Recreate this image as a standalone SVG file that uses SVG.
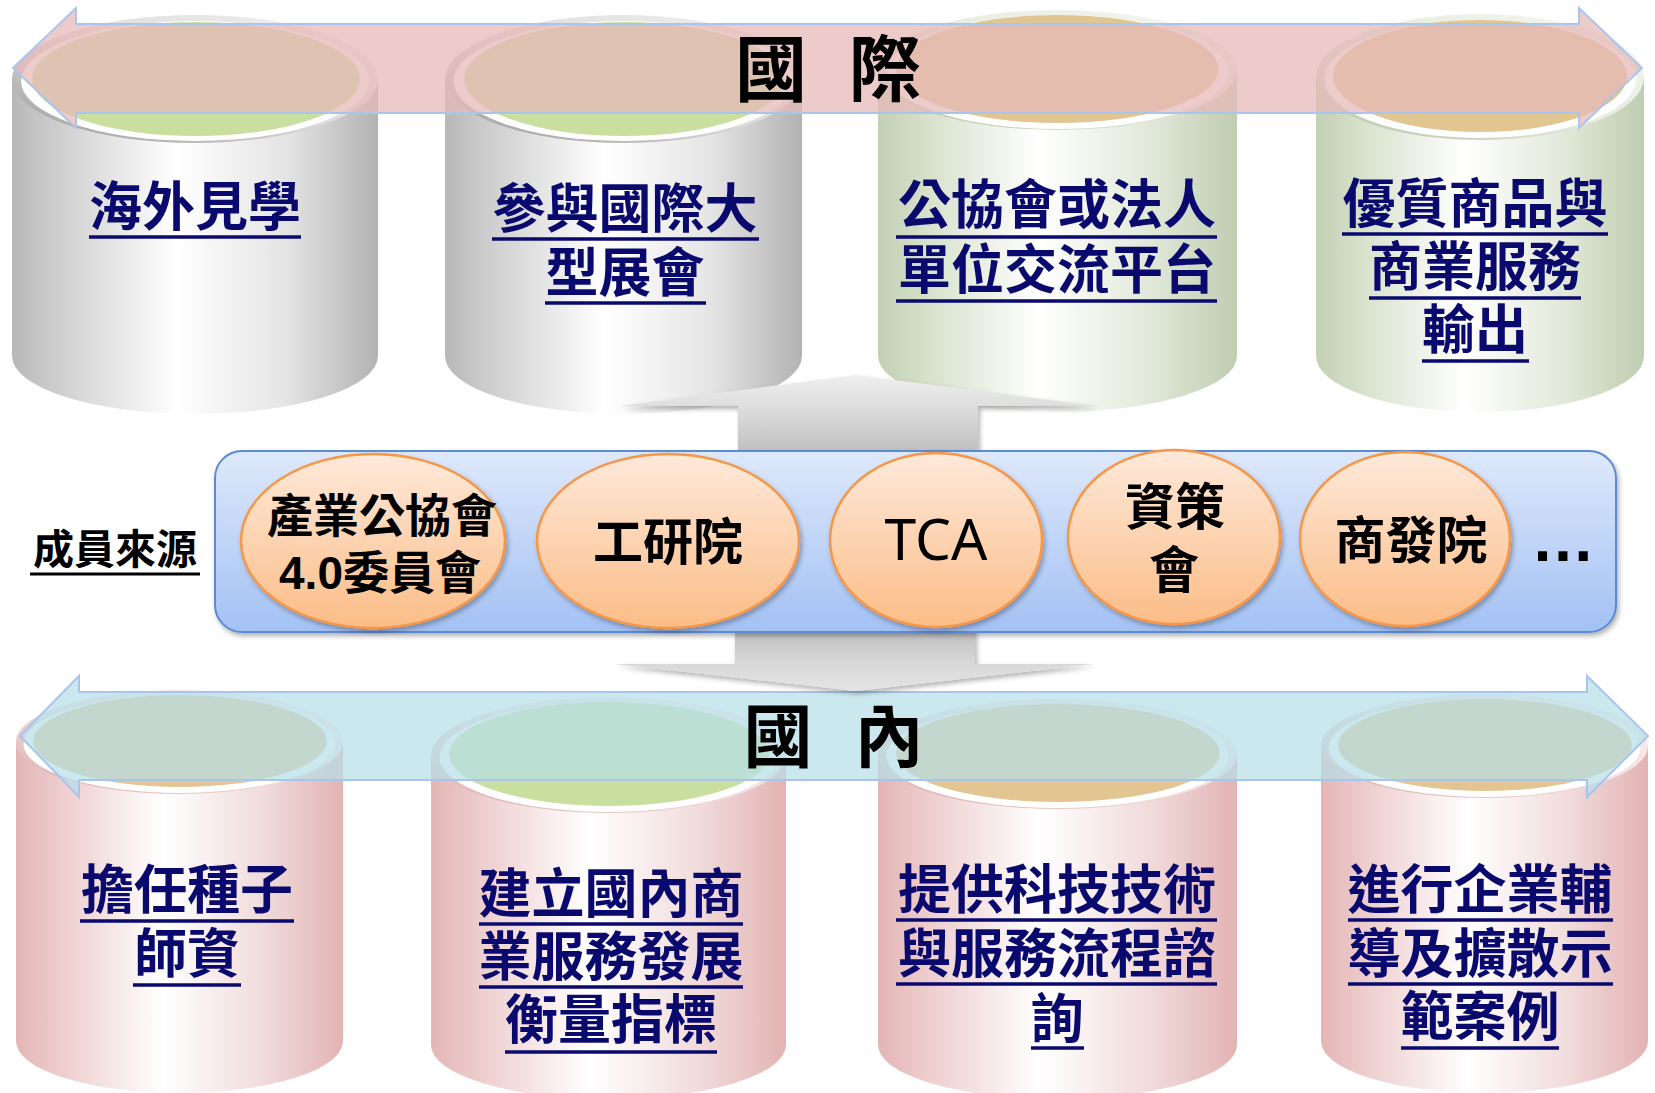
<svg xmlns="http://www.w3.org/2000/svg" width="1655" height="1093" viewBox="0 0 1655 1093">
<defs>
<style>
.lbl{font-family:"Liberation Sans","Noto Sans CJK TC","Noto Sans CJK SC",sans-serif;font-weight:700;font-size:53px;fill:#0a0a6e;text-anchor:middle}
.ul{stroke:#0a0a6e;stroke-width:3.5;fill:none}
.big{font-family:"Liberation Sans","Noto Sans CJK TC","Noto Sans CJK SC",sans-serif;font-weight:700;fill:#000;text-anchor:middle}
.org{font-family:"Liberation Sans","Noto Sans CJK TC","Noto Sans CJK SC",sans-serif;font-weight:700;fill:#000;text-anchor:middle}
.oval{fill:url(#gOrange);stroke:#f79646;stroke-width:2.5;filter:url(#shd)}
.white{fill:#ffffff}
</style>
<linearGradient id="gSilver" x1="0" y1="0" x2="1" y2="0">
<stop offset="0" stop-color="#b8b8b8"/><stop offset="0.15" stop-color="#d2d2d2"/><stop offset="0.45" stop-color="#ffffff"/><stop offset="0.75" stop-color="#e4e4e4"/><stop offset="1" stop-color="#b2b2b2"/>
</linearGradient>
<linearGradient id="gSage" x1="0" y1="0" x2="1" y2="0">
<stop offset="0" stop-color="#c2d0b4"/><stop offset="0.15" stop-color="#d8e2cd"/><stop offset="0.45" stop-color="#ffffff"/><stop offset="0.75" stop-color="#e2e9da"/><stop offset="1" stop-color="#bfcdb1"/>
</linearGradient>
<linearGradient id="gPink" x1="0" y1="0" x2="1" y2="0">
<stop offset="0" stop-color="#e4b5b5"/><stop offset="0.15" stop-color="#eecfcf"/><stop offset="0.45" stop-color="#ffffff"/><stop offset="0.75" stop-color="#f1dcdc"/><stop offset="1" stop-color="#e3b3b3"/>
</linearGradient>
<linearGradient id="gRimS" x1="0" y1="1" x2="1" y2="0">
<stop offset="0" stop-color="#9a9a9a"/><stop offset="0.5" stop-color="#dcdcdc"/><stop offset="1" stop-color="#f2f2f2"/>
</linearGradient>
<linearGradient id="gRimG" x1="0" y1="1" x2="1" y2="0">
<stop offset="0" stop-color="#b5c4a8"/><stop offset="0.5" stop-color="#e6ecdf"/><stop offset="1" stop-color="#f5f7f2"/>
</linearGradient>
<linearGradient id="gRimP" x1="0" y1="1" x2="1" y2="0">
<stop offset="0" stop-color="#dcaeae"/><stop offset="0.5" stop-color="#f2dede"/><stop offset="1" stop-color="#fbf2f2"/>
</linearGradient>
<linearGradient id="gBox" x1="0" y1="0" x2="0" y2="1">
<stop offset="0" stop-color="#dee9fb"/><stop offset="1" stop-color="#a3c1f4"/>
</linearGradient>
<linearGradient id="gOrange" x1="0" y1="0" x2="0" y2="1">
<stop offset="0" stop-color="#fee9da"/><stop offset="1" stop-color="#fbbd87"/>
</linearGradient>
<linearGradient id="gUp" x1="0" y1="0" x2="0" y2="1">
<stop offset="0" stop-color="#efefef"/><stop offset="0.45" stop-color="#dcdcdc"/><stop offset="1" stop-color="#c0c0c0"/>
</linearGradient>
<linearGradient id="gDown" x1="0" y1="0" x2="0" y2="1">
<stop offset="0" stop-color="#bcbcbc"/><stop offset="0.55" stop-color="#d8d8d8"/><stop offset="1" stop-color="#e4e4e4"/>
</linearGradient>
<filter id="shd" x="-10%" y="-10%" width="120%" height="130%">
<feDropShadow dx="2" dy="3" stdDeviation="2.5" flood-color="#000" flood-opacity="0.3"/>
</filter>
</defs>
<rect x="0" y="0" width="1655" height="1093" fill="#ffffff"/>

<!-- top cylinders -->
<g id="cyl-overseas">
<path d="M12,79 V356 A183,58 0 0 0 378,356 V79 Z" fill="url(#gSilver)"/>
<ellipse cx="195" cy="79" rx="183" ry="64" fill="url(#gRimS)"/>
<ellipse cx="195" cy="81" rx="174" ry="60" class="white"/>
<ellipse cx="196" cy="79" rx="164" ry="57" fill="#c9dfa0"/>
<text class="lbl" x="195" y="226">海外見學</text>
<line class="ul" x1="89" y1="237" x2="301" y2="237"/>
</g>
<g id="cyl-expo">
<path d="M445,79 V356 A178.5,58 0 0 0 802,356 V79 Z" fill="url(#gSilver)"/>
<ellipse cx="623.5" cy="79" rx="178.5" ry="64" fill="url(#gRimS)"/>
<ellipse cx="623.5" cy="81" rx="170" ry="60" class="white"/>
<ellipse cx="624" cy="79" rx="160" ry="57" fill="#c9dfa0"/>
<text class="lbl" x="625" y="228">參與國際大</text>
<line class="ul" x1="492" y1="239" x2="759" y2="239"/>
<text class="lbl" x="625" y="292">型展會</text>
<line class="ul" x1="545" y1="303" x2="706" y2="303"/>
</g>
<g id="cyl-platform">
<path d="M878,70 V356 A179.5,56 0 0 0 1237,356 V70 Z" fill="url(#gSage)"/>
<ellipse cx="1057.5" cy="70" rx="179.5" ry="60" fill="url(#gRimG)"/>
<ellipse cx="1057.5" cy="72" rx="171" ry="57" class="white"/>
<ellipse cx="1057.5" cy="69" rx="161" ry="54" fill="#e1c692"/>
<text class="lbl" x="1057" y="224">公協會或法人</text>
<line class="ul" x1="896" y1="237" x2="1217" y2="237"/>
<text class="lbl" x="1057" y="289">單位交流平台</text>
<line class="ul" x1="896" y1="301" x2="1217" y2="301"/>
</g>
<g id="cyl-export">
<path d="M1316,77 V356 A164,56 0 0 0 1644,356 V77 Z" fill="url(#gSage)"/>
<ellipse cx="1480" cy="77" rx="164" ry="63" fill="url(#gRimG)"/>
<ellipse cx="1480" cy="79" rx="156" ry="59" class="white"/>
<ellipse cx="1480" cy="76" rx="147" ry="56" fill="#e1c692"/>
<text class="lbl" x="1475" y="223">優質商品與</text>
<line class="ul" x1="1342" y1="234" x2="1608" y2="234"/>
<text class="lbl" x="1475" y="286">商業服務</text>
<line class="ul" x1="1369" y1="298" x2="1581" y2="298"/>
<text class="lbl" x="1475" y="349">輸出</text>
<line class="ul" x1="1422" y1="361" x2="1529" y2="361"/>
</g>

<!-- bottom cylinders -->
<g id="cyl-teacher">
<path d="M16,742 V1041 A163.5,52 0 0 0 343,1041 V742 Z" fill="url(#gPink)"/>
<ellipse cx="179.5" cy="742" rx="163.5" ry="52" fill="url(#gRimP)"/>
<ellipse cx="179.5" cy="744" rx="156" ry="49" class="white"/>
<ellipse cx="180" cy="741" rx="147" ry="46" fill="#e2c590"/>
<text class="lbl" x="187" y="909">擔任種子</text>
<line class="ul" x1="80" y1="921" x2="294" y2="921"/>
<text class="lbl" x="187" y="973">師資</text>
<line class="ul" x1="133" y1="985" x2="241" y2="985"/>
</g>
<g id="cyl-metrics">
<path d="M431,755 V1045 A177.5,54 0 0 0 786,1045 V755 Z" fill="url(#gPink)"/>
<ellipse cx="608.5" cy="755" rx="177.5" ry="58" fill="url(#gRimP)"/>
<ellipse cx="608.5" cy="757" rx="169" ry="55" class="white"/>
<ellipse cx="609" cy="754" rx="160" ry="52" fill="#c9dfa0"/>
<text class="lbl" x="611" y="913">建立國內商</text>
<line class="ul" x1="479" y1="924" x2="743" y2="924"/>
<text class="lbl" x="611" y="976">業服務發展</text>
<line class="ul" x1="479" y1="987" x2="743" y2="987"/>
<text class="lbl" x="611" y="1039">衡量指標</text>
<line class="ul" x1="505" y1="1052" x2="717" y2="1052"/>
</g>
<g id="cyl-consult">
<path d="M878,754 V1045 A179.5,54 0 0 0 1237,1045 V754 Z" fill="url(#gPink)"/>
<ellipse cx="1057.5" cy="754" rx="179.5" ry="55" fill="url(#gRimP)"/>
<ellipse cx="1057.5" cy="756" rx="171" ry="52" class="white"/>
<ellipse cx="1058" cy="753" rx="162" ry="49" fill="#e2c590"/>
<text class="lbl" x="1057" y="909">提供科技技術</text>
<line class="ul" x1="896" y1="920" x2="1217" y2="920"/>
<text class="lbl" x="1057" y="973">與服務流程諮</text>
<line class="ul" x1="896" y1="984" x2="1217" y2="984"/>
<text class="lbl" x="1057" y="1038">詢</text>
<line class="ul" x1="1031" y1="1048" x2="1084" y2="1048"/>
</g>
<g id="cyl-cases">
<path d="M1321,746 V1041 A163.5,52 0 0 0 1648,1041 V746 Z" fill="url(#gPink)"/>
<ellipse cx="1484.5" cy="746" rx="163.5" ry="52" fill="url(#gRimP)"/>
<ellipse cx="1484.5" cy="748" rx="156" ry="49" class="white"/>
<ellipse cx="1485" cy="745" rx="147" ry="46" fill="#e2c590"/>
<text class="lbl" x="1480" y="909">進行企業輔</text>
<line class="ul" x1="1348" y1="920" x2="1613" y2="920"/>
<text class="lbl" x="1480" y="973">導及擴散示</text>
<line class="ul" x1="1348" y1="984" x2="1613" y2="984"/>
<text class="lbl" x="1480" y="1036">範案例</text>
<line class="ul" x1="1401" y1="1048" x2="1559" y2="1048"/>
</g>

<!-- bands -->
<g id="band-international">
<path d="M13,68 L76,8 L76,24 L1579,24 L1579,8 L1642,68 L1579,128 L1579,113 L76,113 L76,128 Z" fill="#e6b9b8" fill-opacity="0.75" stroke="#a9c5ec" stroke-width="2"/>
<text class="big" x="771" y="95" font-size="72">國</text>
<text class="big" x="885" y="95" font-size="72">際</text>
</g>
<g id="band-domestic">
<path d="M20,736 L79,676 L79,692 L1587,692 L1587,676 L1648,736 L1587,797 L1587,780 L79,780 L79,797 Z" fill="#b7dee8" fill-opacity="0.7" stroke="#a9c5ec" stroke-width="2"/>
<text class="big" x="778" y="762" font-size="69">國</text>
<text class="big" x="889" y="762" font-size="69">內</text>
</g>

<!-- connectors -->
<g id="connectors">
<path d="M856,375 L1097,406 L978,406 L978,452 L738,452 L738,406 L620,406 Z" fill="url(#gUp)" filter="url(#shd)"/>
<path d="M735,628 L975,628 L975,664 L1094,664 L856,691 L614,664 L735,664 Z" fill="url(#gDown)" filter="url(#shd)"/>
</g>

<!-- member sources -->
<g id="members">
<text class="org" x="115" y="564" font-size="41">成員來源</text>
<line x1="30" y1="574" x2="200" y2="574" stroke="#000" stroke-width="3"/>
<rect x="215" y="451" width="1401" height="181" rx="27" fill="url(#gBox)" stroke="#5b8bd0" stroke-width="2" filter="url(#shd)"/>
</g>
<g id="org-industry">
<ellipse class="oval" cx="373" cy="541" rx="132" ry="87"/>
<text class="org" x="382" y="532" font-size="46">產業公協會</text>
<text class="org" x="380" y="589" font-size="46">4.0委員會</text>
</g>
<g id="org-itri">
<ellipse class="oval" cx="668" cy="541" rx="131" ry="87"/>
<text class="org" x="668" y="560" font-size="50">工研院</text>
</g>
<g id="org-tca">
<ellipse class="oval" cx="936" cy="540" rx="106" ry="87"/>
<text x="936" y="560" font-size="57" font-family="'Noto Sans','Open Sans',sans-serif" fill="#000" text-anchor="middle">TCA</text>
</g>
<g id="org-iii">
<ellipse class="oval" cx="1174" cy="537" rx="106" ry="87"/>
<text class="org" x="1175" y="525" font-size="50">資策</text>
<text class="org" x="1174" y="588" font-size="50">會</text>
</g>
<g id="org-cdri">
<ellipse class="oval" cx="1405" cy="539" rx="105" ry="87"/>
<text class="org" x="1411" y="559" font-size="51">商發院</text>
</g>
<g id="org-more">
<text x="1563" y="561" font-size="64" font-weight="700" font-family="'Liberation Sans',sans-serif" fill="#000" text-anchor="middle">…</text>
</g>
</svg>
